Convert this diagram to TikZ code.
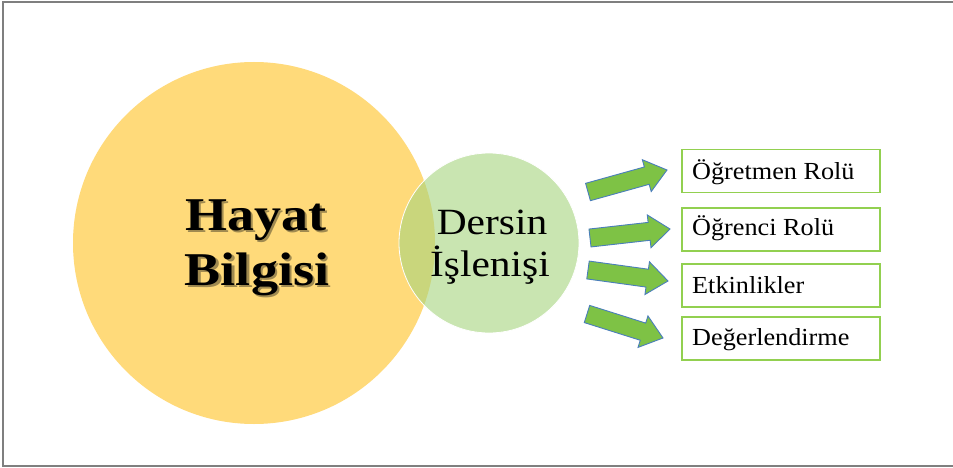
\documentclass[tikz,border=0pt]{standalone}
\usepackage{fontspec}
\setmainfont{Liberation Serif}
\usetikzlibrary{calc}
\definecolor{sunY}{HTML}{FFDA7A}
\definecolor{leafG}{HTML}{A6D47E}
\definecolor{arrG}{HTML}{7EC245}
\definecolor{arrB}{HTML}{4A7EBB}
\definecolor{boxG}{HTML}{92D050}
\definecolor{frameC}{HTML}{7F7F7F}
\definecolor{shadeC}{HTML}{A08A50}
\tikzset{
  arrstyle/.style={fill=arrG, draw=arrB, line width=0.9pt, line join=miter},
  itembox/.style={draw=boxG, line width=1.3pt, minimum width=198pt, minimum height=43pt, inner sep=0pt},
  itemtext/.style={anchor=base west, inner sep=0pt, font=\fontsize{24.5}{27}\selectfont},
  titletext/.style={anchor=base, inner sep=0pt, font=\bfseries\fontsize{47}{50}\selectfont},
}
\newcommand\shadowed[1]{\makebox[0pt][l]{\hspace{2pt}\raisebox{-2pt}{\textcolor{shadeC}{#1}}}#1}
\newcommand\blockarr[2]{%
  \coordinate (hb) at ($(#2)!21pt!(#1)$);
  \draw[arrstyle] ($(#1)!9pt!90:(#2)$) -- ($(hb)!9pt!90:(#2)$) -- ($(hb)!16.5pt!90:(#2)$) -- (#2)
    -- ($(hb)!16.5pt!-90:(#2)$) -- ($(hb)!9pt!-90:(#2)$) -- ($(#1)!9pt!-90:(#2)$) -- cycle;}
\begin{document}
\begin{tikzpicture}[x=1pt, y=-1pt]
\useasboundingbox (0,0) rectangle (953,468);
\fill[white] (0,0) rectangle (953,468);
% frame
\draw[frameC, line width=1.6pt] (960,2) -- (3,2) -- (3,466) -- (960,466);
% circles
\node[circle, fill=sunY, minimum size=362pt, inner sep=0pt] (hb1) at (254,243) {};
\node[circle, fill=leafG, fill opacity=0.6, draw=white, line width=0.8pt, minimum size=180pt, inner sep=0pt] (di) at (489,243) {};
% Hayat Bilgisi with shadow
\node[titletext] (ht1) at (256,230) {\scalebox{1.15}[1]{\shadowed{Hayat}}};
\node[titletext] (ht2) at (257,285) {\scalebox{1.15}[1]{\shadowed{Bilgisi}}};
% Dersin Islenisi
\node[anchor=base, inner sep=0pt, font=\fontsize{37}{40}\selectfont] (dt1) at (492,234) {\scalebox{1.12}[1]{Dersin}};
\node[anchor=base, inner sep=0pt, font=\fontsize{37}{40}\selectfont] (dt2) at (490,276) {\scalebox{1.12}[1]{İşlenişi}};
% boxes
\node[itembox] (b1) at (781,171) {};
\node[itembox] (b2) at (781,229.5) {};
\node[itembox] (b3) at (781,285.5) {};
\node[itembox] (b4) at (781,338.5) {};
\node[itemtext] (t1) at (692,179.5) {\scalebox{1.07}[1]{Öğretmen Rolü}};
\node[itemtext] (t2) at (692,235.5) {\scalebox{1.07}[1]{Öğrenci Rolü}};
\node[itemtext] (t3) at (692,293.5) {\scalebox{1.07}[1]{Etkinlikler}};
\node[itemtext] (t4) at (692,345.5) {\scalebox{1.07}[1]{Değerlendirme}};
% arrows
\coordinate (a1t) at (588,192); \coordinate (a1h) at (667,170);
\coordinate (a2t) at (590,238); \coordinate (a2h) at (670,229);
\coordinate (a3t) at (588,270); \coordinate (a3h) at (668,281);
\coordinate (a4t) at (587,314); \coordinate (a4h) at (663,338);
\blockarr{a1t}{a1h}
\blockarr{a2t}{a2h}
\blockarr{a3t}{a3h}
\blockarr{a4t}{a4h}
\end{tikzpicture}
\end{document}
